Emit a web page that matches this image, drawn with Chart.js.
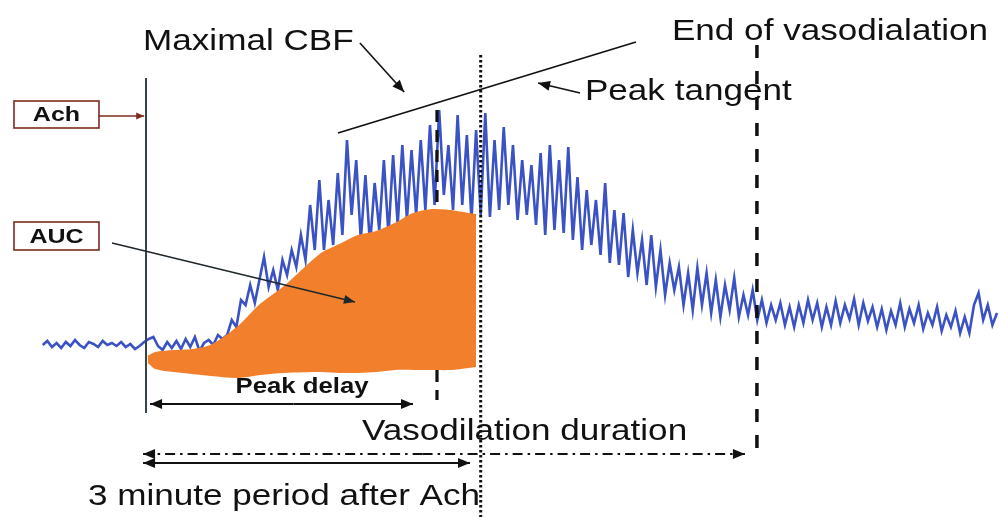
<!DOCTYPE html>
<html>
<head>
<meta charset="utf-8">
<title>CBF response to Ach</title>
<script src="https://cdn.jsdelivr.net/npm/chart.js@4.4.1/dist/chart.umd.min.js"></script>
<style>
    html, body { margin: 0; padding: 0; background: #ffffff; }
    #wrap { position: relative; width: 999px; height: 517px; }
</style>
</head>
<body>
<div id="wrap"><canvas id="cbf-chart"></canvas></div>
<script>
// Laser-Doppler CBF trace (a.u., baseline ~100), one sample every 2.5 s starting 56 s before Ach
const SAMPLE_START = -56;
const SAMPLE_STEP = 2.5;
const cbfValues = [
    100, 104, 98, 102, 97, 103, 99, 105, 100, 97, 103, 101, 98, 104, 100, 102, 99, 103, 98, 101, 96, 99, 103,
    106, 108, 99, 95, 103, 97, 104, 96, 106, 98, 108, 94,
    102, 105, 100, 110, 106,
    110, 125, 118, 145, 140, 160, 142, 165, 188, 158, 175, 155, 185, 170, 195, 178, 210, 185, 240,
    195, 265, 195, 245, 200, 272,
    210, 305, 230, 285, 205, 270,
    200, 262, 215, 285, 210, 290,
    220, 300, 225, 295, 230, 305,
    235, 320, 240, 335, 250, 300,
    235, 330, 240, 310, 225, 315,
    230, 332, 228, 305, 235, 318,
    240, 300, 225, 285, 230, 280,
    220, 292, 210, 300, 215, 285,
    212, 298, 205, 268, 195, 255,
    200, 245, 190, 262, 182, 235,
    180, 232, 168, 215, 172, 205,
    160, 210, 158, 195, 150, 182,
    155, 178, 140, 172, 135, 177,
    140, 172, 132, 165, 128, 160,
    135, 167, 128, 150, 130, 155,
    125, 145, 122, 140, 125, 142,
    120, 138, 118, 140, 122, 145,
    125, 142, 118, 138, 120, 144,
    122, 140, 126, 146, 120, 142,
    124, 138, 118, 136, 115, 134,
    120, 142, 118, 136, 122, 140,
    116, 132, 120, 138, 114, 130,
    118, 134, 112, 128, 112, 140,
    152, 125, 140, 120, 132
];

// Area under the curve (orange), upper and lower outline
const aucTimes  = [1, 5, 15, 25, 35, 50, 62, 75, 95, 105, 115, 125, 135, 145, 155, 165, 175, 179];
const aucUpper  = [88, 92, 94, 95, 99, 118, 140, 158, 191, 200, 209, 213, 221, 231, 235, 234, 231, 230];
const aucLower  = [82, 76, 73, 71, 69, 67, 70, 72, 73, 72, 72, 73, 75, 75, 75, 75, 77, 78];

// Key times (s after Ach)
const ACH_TIME = 0;
const PEAK_TIME = 157.8;
const PERIOD_END_TIME = 181.5;
const VASO_END_TIME = 331.3;

const BLUE = '#3a52c4';
const ORANGE = '#f17f2c';
const INK = '#111111';
const BOX_RED = '#7d2b1d';
const TEXT_STRETCH = 1.17;

const toPoints = (xs, ys) => xs.map((x, i) => ({ x: x, y: ys[i] }));
const signalPoints = cbfValues.map((v, i) => ({ x: SAMPLE_START + i * SAMPLE_STEP, y: v }));

/**
 * Helpers for drawing in data coordinates
 */
function line(chart, t1, v1, t2, v2, color, width, dash) {
    const ctx = chart.ctx, sx = chart.scales.x, sy = chart.scales.y;
    ctx.save();
    ctx.strokeStyle = color;
    ctx.lineWidth = width;
    ctx.setLineDash(dash || []);
    ctx.beginPath();
    ctx.moveTo(sx.getPixelForValue(t1), sy.getPixelForValue(v1));
    ctx.lineTo(sx.getPixelForValue(t2), sy.getPixelForValue(v2));
    ctx.stroke();
    ctx.restore();
}

function head(chart, t1, v1, t2, v2, color, len, half) {
    const ctx = chart.ctx, sx = chart.scales.x, sy = chart.scales.y;
    const x1 = sx.getPixelForValue(t1), y1 = sy.getPixelForValue(v1);
    const x2 = sx.getPixelForValue(t2), y2 = sy.getPixelForValue(v2);
    const a = Math.atan2(y2 - y1, x2 - x1);
    ctx.save();
    ctx.fillStyle = color;
    ctx.beginPath();
    ctx.moveTo(x2, y2);
    ctx.lineTo(x2 - len * Math.cos(a) + half * Math.sin(a), y2 - len * Math.sin(a) - half * Math.cos(a));
    ctx.lineTo(x2 - len * Math.cos(a) - half * Math.sin(a), y2 - len * Math.sin(a) + half * Math.cos(a));
    ctx.closePath();
    ctx.fill();
    ctx.restore();
}

function arrow(chart, t1, v1, t2, v2, color, width, dash, len, half) {
    line(chart, t1, v1, t2, v2, color, width, dash);
    head(chart, t1, v1, t2, v2, color, len || 11, half || 4.5);
}

function text(chart, str, t, v, font, align) {
    const ctx = chart.ctx;
    ctx.save();
    ctx.translate(chart.scales.x.getPixelForValue(t), chart.scales.y.getPixelForValue(v));
    ctx.scale(TEXT_STRETCH, 1);
    ctx.font = font;
    ctx.fillStyle = INK;
    ctx.textAlign = align || 'left';
    ctx.textBaseline = 'alphabetic';
    ctx.fillText(str, 0, 0);
    ctx.restore();
}

function labelBox(chart, str, t1, v1, t2, v2) {
    const ctx = chart.ctx, sx = chart.scales.x, sy = chart.scales.y;
    const x1 = sx.getPixelForValue(t1), y1 = sy.getPixelForValue(v1);
    const x2 = sx.getPixelForValue(t2), y2 = sy.getPixelForValue(v2);
    ctx.save();
    ctx.fillStyle = '#ffffff';
    ctx.fillRect(x1, y1, x2 - x1, y2 - y1);
    ctx.strokeStyle = BOX_RED;
    ctx.lineWidth = 1.6;
    ctx.strokeRect(x1, y1, x2 - x1, y2 - y1);
    ctx.translate((x1 + x2) / 2, (y1 + y2) / 2 + 1);
    ctx.scale(1.25, 1);
    ctx.font = 'bold 20px "Liberation Sans", Arial, sans-serif';
    ctx.fillStyle = INK;
    ctx.textAlign = 'center';
    ctx.textBaseline = 'middle';
    ctx.fillText(str, 0, 0);
    ctx.restore();
}

const FONT = '30px "Liberation Sans", Arial, sans-serif';

const annotations = {
    id: 'cbfAnnotations',
    // dashed peak marker sits above the trace but under the orange area
    afterDatasetDraw(chart, args) {
        if (args.index !== 1) return;
        line(chart, PEAK_TIME, 335, PEAK_TIME, 45, INK, 3.2, [12, 8]);
    },
    afterDatasetsDraw(chart) {
        // Ach injection
        line(chart, ACH_TIME, 367, ACH_TIME, 32, '#36444c', 2);
        labelBox(chart, 'Ach', -71.6, 344, -25.5, 317);
        arrow(chart, -25.5, 329, ACH_TIME - 1, 329, BOX_RED, 1.4, null, 8, 3.5);

        // AUC
        labelBox(chart, 'AUC', -71.6, 223, -25.5, 195);
        arrow(chart, -18.4, 202, 113.3, 143, '#1d272c', 1.4, null, 11, 4.5);

        // end of 3 minute period and end of vasodilation
        line(chart, PERIOD_END_TIME, 390, PERIOD_END_TIME, -72, INK, 3, [2.5, 2.5]);
        line(chart, VASO_END_TIME, 400, VASO_END_TIME, -3, INK, 3.5, [13, 13]);

        // peak tangent and its labels
        line(chart, 104.1, 312, 265.7, 403, INK, 1.8);
        text(chart, 'Maximal CBF', -1.6, 395, FONT);
        arrow(chart, 116, 402, 140, 353, INK, 1.6, null, 12, 5);
        text(chart, 'Peak tangent', 238, 345, FONT);
        arrow(chart, 235.4, 352, 212.6, 362, INK, 1.6, null, 12, 5);
        text(chart, 'End of vasodialation', 285.2, 405, FONT);

        // peak delay
        arrow(chart, 80, 41, 2.2, 41, INK, 1.8, null, 12, 5);
        arrow(chart, 80, 41, 144.8, 41, INK, 1.8, null, 12, 5);
        text(chart, 'Peak delay', 84.6, 52, 'bold 22px "Liberation Sans", Arial, sans-serif', 'center');

        // vasodilation duration (dash-dot) and 3 minute period
        arrow(chart, 150, -9, -1.6, -9, INK, 1.8, [10, 5, 2.5, 5], 12, 5);
        arrow(chart, 150, -9, 324.8, -9, INK, 1.8, [10, 5, 2.5, 5], 12, 5);
        text(chart, 'Vasodilation duration', 117.1, 5, FONT);
        arrow(chart, 90, -18, -1.6, -18, INK, 1.8, null, 12, 5);
        arrow(chart, 90, -18, 175.7, -18, INK, 1.8, null, 12, 5);
        text(chart, '3 minute period after Ach', -31.5, -60, FONT);
    }
};

const ctx = document.getElementById('cbf-chart');
new Chart(ctx, {
    type: 'line',
    data: {
        datasets: [{
            label: 'AUC',
            data: toPoints(aucTimes, aucUpper),
            borderColor: ORANGE,
            borderWidth: 2,
            backgroundColor: ORANGE,
            fill: '+1',
            pointRadius: 0,
            tension: 0.3
        }, {
            label: 'AUC base',
            data: toPoints(aucTimes, aucLower),
            borderWidth: 0,
            borderColor: 'rgba(0,0,0,0)',
            fill: false,
            pointRadius: 0,
            tension: 0.3
        }, {
            label: 'CBF',
            data: signalPoints,
            borderColor: BLUE,
            borderWidth: 2.6,
            fill: false,
            pointRadius: 0,
            tension: 0
        }]
    },
    options: {
        responsive: true,
        maintainAspectRatio: false,
        animation: false,
        layout: { padding: 0 },
        plugins: {
            legend: { display: false },
            tooltip: { enabled: false }
        },
        scales: {
            x: { type: 'linear', min: -79.18, max: 462.58, display: false },
            y: { type: 'linear', min: -72, max: 445, display: false }
        }
    },
    plugins: [annotations]
});
</script>
</body>
</html>
